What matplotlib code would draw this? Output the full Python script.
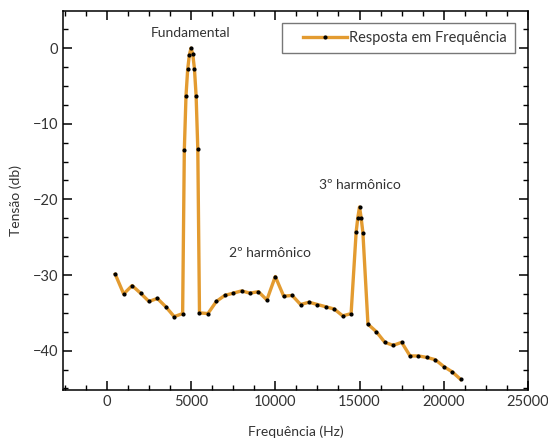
import matplotlib
matplotlib.use("Agg")
import matplotlib.pyplot as plt
from matplotlib.ticker import MultipleLocator
from matplotlib.legend_handler import HandlerLine2D

plt.rcParams["font.family"] = ["Lato", "DejaVu Sans"]

# frequency response data (Hz, dB)
freq = [500, 1000, 1500, 2000, 2500, 3000, 3500, 4000, 4500,
        4600, 4700, 4800, 4900, 5000, 5100, 5200, 5300, 5400,
        5500, 6000, 6500, 7000, 7500, 8000, 8500, 9000, 9500,
        10000, 10500, 11000, 11500, 12000, 12500, 13000, 13500, 14000, 14500,
        14800, 14900, 15000, 15100, 15200,
        15500, 16000, 16500, 17000, 17500, 18000, 18500, 19000, 19500,
        20000, 20500, 21000]
tensao = [-29.9, -32.5, -31.4, -32.4, -33.5, -33.1, -34.2, -35.5, -35.1,
          -13.5, -6.3, -2.8, -0.9, 0.0, -0.8, -2.7, -6.3, -13.3,
          -35.0, -35.1, -33.5, -32.7, -32.4, -32.1, -32.4, -32.2, -33.3,
          -30.2, -32.8, -32.7, -33.9, -33.6, -33.9, -34.2, -34.5, -35.4, -35.1,
          -24.3, -22.4, -21.0, -22.5, -24.4,
          -36.5, -37.5, -38.9, -39.3, -38.9, -40.7, -40.7, -40.9, -41.2,
          -42.1, -42.8, -43.8]

labels = ["Fundamental", "2º harmônico", "3º harmônico"]
label_x = [5000, 9700, 15000]
label_y = [2.0, -27.1, -18.1]

txt = "#333333"
fig = plt.figure(figsize=(5.48, 4.46), dpi=100)
ax = fig.add_axes([0.115, 0.1256, 0.8485, 0.8497])

line, = ax.plot(freq, tensao, color="#E39B30", lw=2.4, marker="o", ms=2.0,
                mfc="black", mec="black", label="Resposta em Frequência")

for s, x, y in zip(labels, label_x, label_y):
    ax.text(x, y, s, ha="center", va="center", fontsize=10, color=txt)

ax.set_xlim(-2600, 25000)
ax.set_ylim(-45.2, 4.9)
ax.xaxis.set_major_locator(MultipleLocator(5000))
ax.xaxis.set_minor_locator(MultipleLocator(1250))
ax.yaxis.set_major_locator(MultipleLocator(10))
ax.yaxis.set_minor_locator(MultipleLocator(2.5))
ax.tick_params(which="both", direction="in", top=True, right=True,
               labelsize=10.5, labelcolor=txt)
ax.tick_params(which="major", length=6.5, width=1.1)
ax.tick_params(which="minor", length=3.5, width=1.0)
for sp in ax.spines.values():
    sp.set_linewidth(1.1)

ax.set_xlabel("Frequência (Hz)", fontsize=10, color=txt, labelpad=12)
ax.set_ylabel("Tensão (db)", fontsize=10, color=txt, labelpad=8)

leg = ax.legend(loc="upper right", bbox_to_anchor=(0.972, 0.968),
                fontsize=10.5, frameon=True, fancybox=False,
                handlelength=3.9, borderpad=0.55, handletextpad=0.15,
                borderaxespad=0,
                handler_map={line: HandlerLine2D(xpad=0.9)})
leg.get_frame().set_edgecolor("#555555")
leg.get_frame().set_linewidth(1.0)
for t in leg.get_texts():
    t.set_color(txt)

fig.savefig("out.png", dpi=100)
